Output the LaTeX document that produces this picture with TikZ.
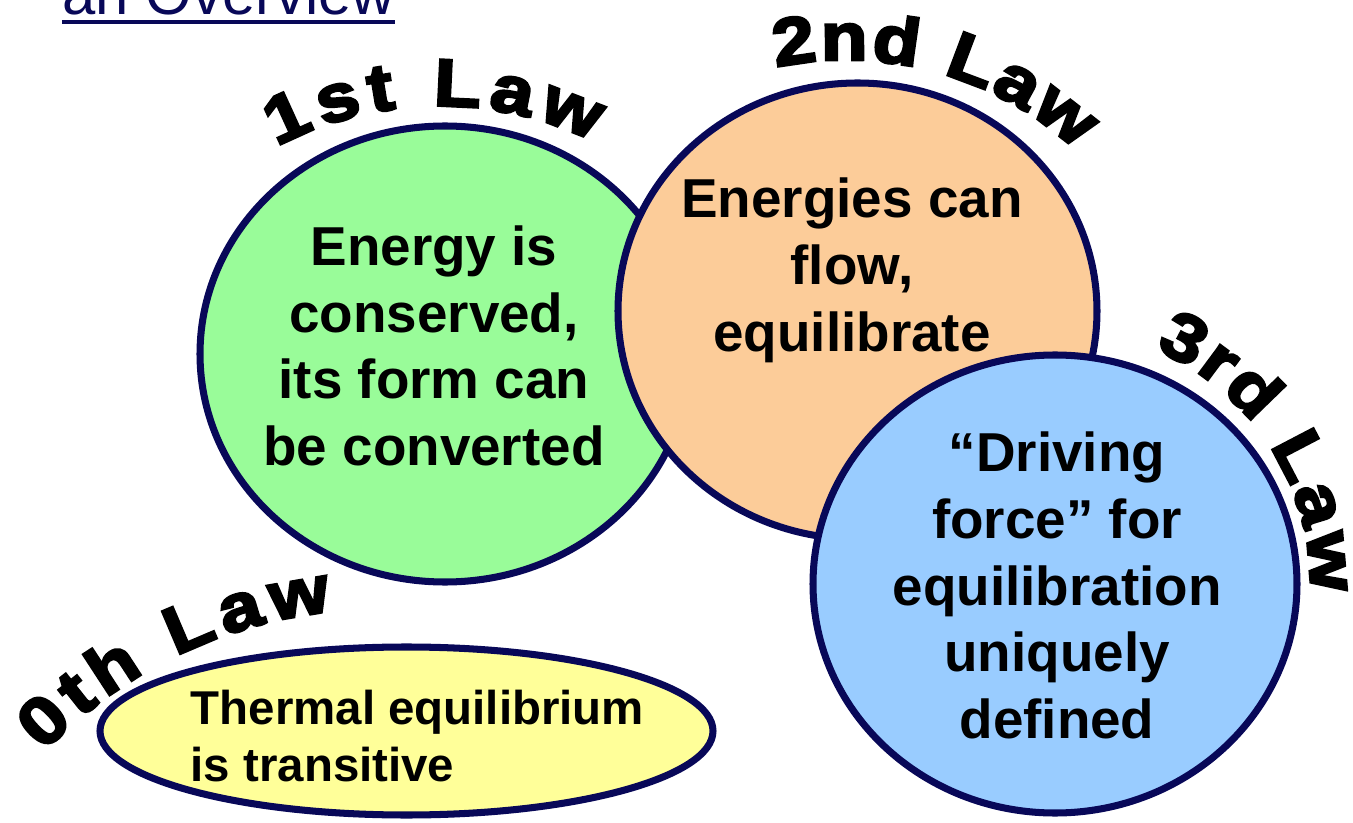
\documentclass[tikz,border=0pt]{standalone}
\usepackage{fontspec}
\setmainfont{Liberation Sans}
\newfontfamily\archfont{Liberation Sans}[BoldFeatures={FakeBold=4,FakeStretch=1.15}]
\usetikzlibrary{decorations.text}

\definecolor{rim}{RGB}{8,8,88}
\definecolor{mint}{RGB}{153,252,153}
\definecolor{peach}{RGB}{252,204,153}
\definecolor{sky}{RGB}{153,204,255}
\definecolor{lemon}{RGB}{255,255,153}

\begin{document}
\begin{tikzpicture}[
    bubble/.style={draw=rim, line width=2pt},
    body/.style={font=\fontsize{15.6}{19}\selectfont\bfseries, align=center, inner sep=0pt},
    arch/.style={decorate, decoration={text along path, text align=fit to path,
        text={|\fontsize{19}{22}\archfont\bfseries|#1}}}
  ]
    \useasboundingbox (0,0) rectangle (13.53,8.22);
    \fill[white] (0,0) rectangle (13.53,8.22);
    \clip (0,0) rectangle (13.53,8.22);

    % heading, only its lower edge shows
    \node[anchor=base west, inner sep=0pt, font=\fontsize{17}{20}\selectfont, text=rim] (title) at (0.62,8.07) {an Overview};
    \draw[rim, line width=1.2pt] ([yshift=-2pt]title.base west) -- ([yshift=-2pt]title.base east);

    % the four laws
    \draw[bubble, fill=lemon] (4.065,0.91) ellipse[x radius=3.065, y radius=0.84];
    \draw[bubble, fill=mint] (4.45,4.68) ellipse[x radius=2.45, y radius=2.28];
    \draw[bubble, fill=peach] (8.575,5.11) ellipse[x radius=2.395, y radius=2.28];
    \draw[bubble, fill=sky] (10.55,2.38) ellipse[x radius=2.42, y radius=2.29];

    \node[body] (first) at (4.34,4.76) {Energy is\\conserved,\\its form can\\be converted};
    \node[body] (second) at (8.52,5.515) {Energies can\\flow,\\equilibrate};
    \node[body] (third) at (10.57,2.365) {“Driving\\force” for\\equilibration\\uniquely\\defined};
    \node[body, font=\fontsize{13.5}{16.2}\selectfont\bfseries, align=left, anchor=west] (zeroth) at (1.90,0.86) {Thermal equilibrium\\is transitive};

    % arched titles
    \path[arch=0th Law] ([shift={(136:4.69)}]3.81,-2.56) arc[start angle=136, end angle=96, radius=4.69];
    \path[arch=1st Law] ([shift={(118:3.48)}]4.40,3.68) arc[start angle=118, end angle=64, radius=3.48];
    \path[arch=2nd Law] ([shift={(102:3.37)}]8.46,4.25) arc[start angle=102, end angle=47, radius=3.37];
    \path[arch=3rd Law] ([shift={(67:2.55)}]10.55,2.38) arc[start angle=67, end angle=-2, radius=2.55];
\end{tikzpicture}
\end{document}
